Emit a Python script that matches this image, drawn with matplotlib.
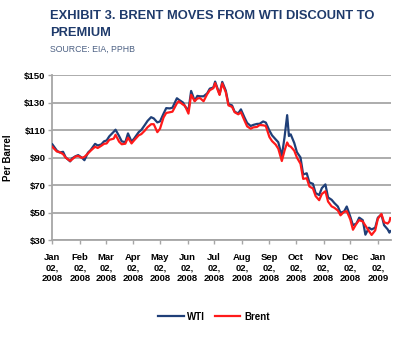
import matplotlib
matplotlib.use("Agg")
import matplotlib.pyplot as plt
from datetime import datetime

plt.rcParams['font.family'] = ['Liberation Sans', 'DejaVu Sans']

dates = [
    "2008-01-02", "2008-01-07", "2008-01-10", "2008-01-14", "2008-01-17", "2008-01-22", "2008-01-24",
    "2008-01-28", "2008-01-31", "2008-02-04", "2008-02-07", "2008-02-11", "2008-02-14", "2008-02-19",
    "2008-02-22", "2008-02-26", "2008-02-29", "2008-03-03", "2008-03-06", "2008-03-11", "2008-03-13",
    "2008-03-17", "2008-03-20", "2008-03-24", "2008-03-27", "2008-03-31", "2008-04-03", "2008-04-08",
    "2008-04-11", "2008-04-15", "2008-04-18", "2008-04-22", "2008-04-25", "2008-04-29", "2008-05-02",
    "2008-05-06", "2008-05-09", "2008-05-13", "2008-05-16", "2008-05-21", "2008-05-23", "2008-05-28",
    "2008-05-30", "2008-06-03", "2008-06-06", "2008-06-10", "2008-06-13", "2008-06-16", "2008-06-20",
    "2008-06-24", "2008-06-27", "2008-07-01", "2008-07-03", "2008-07-08", "2008-07-11", "2008-07-15",
    "2008-07-18", "2008-07-22", "2008-07-25", "2008-07-29", "2008-08-01", "2008-08-05", "2008-08-08",
    "2008-08-12", "2008-08-15", "2008-08-19", "2008-08-22", "2008-08-26", "2008-08-29", "2008-09-02",
    "2008-09-05", "2008-09-09", "2008-09-12", "2008-09-16", "2008-09-19", "2008-09-22", "2008-09-24",
    "2008-09-26", "2008-09-30", "2008-10-03", "2008-10-07", "2008-10-10", "2008-10-14", "2008-10-17",
    "2008-10-21", "2008-10-24", "2008-10-28", "2008-10-31", "2008-11-04", "2008-11-07", "2008-11-11",
    "2008-11-14", "2008-11-18", "2008-11-21", "2008-11-25", "2008-11-28", "2008-12-02", "2008-12-05",
    "2008-12-09", "2008-12-12", "2008-12-16", "2008-12-19", "2008-12-23", "2008-12-26", "2008-12-30",
    "2009-01-02", "2009-01-06", "2009-01-09", "2009-01-13", "2009-01-15", "2009-01-16",
]

wti = [
    99.6, 95.1, 93.7, 94.2, 90.1, 87.2, 89.4,
    91.0, 91.8, 90.0, 88.1, 93.6, 95.5, 100.0,
    98.8, 99.6, 101.8, 102.5, 105.5, 108.8, 110.3,
    105.7, 101.8, 101.2, 107.6, 101.6, 103.9, 108.5,
    110.1, 113.8, 116.7, 119.4, 118.5, 115.6, 116.3,
    122.0, 126.0, 125.8, 126.3, 133.2, 132.2, 130.0,
    127.4, 124.3, 138.5, 131.3, 134.9, 134.6, 134.6,
    136.7, 140.2, 141.0, 145.3, 136.1, 145.1, 138.7,
    128.9, 128.0, 123.3, 122.2, 125.1, 119.2, 115.2,
    113.0, 113.8, 114.5, 114.6, 116.3, 115.5, 109.7,
    106.2, 103.3, 101.2, 91.2, 104.6, 120.9, 105.7,
    106.9, 100.6, 93.9, 90.1, 77.7, 78.6, 71.9,
    70.9, 64.2, 62.7, 67.8, 70.5, 61.0, 59.3,
    57.0, 54.4, 49.9, 50.8, 54.4, 47.0, 40.8,
    42.1, 46.3, 44.5, 33.9, 39.0, 37.7, 39.0,
    46.3, 48.6, 40.8, 37.8, 35.4, 36.5,
]

brent = [
    97.8, 94.4, 94.1, 92.5, 89.9, 87.6, 88.6,
    90.8, 91.2, 89.8, 90.5, 93.0, 95.0, 97.9,
    97.0, 98.6, 100.0, 100.3, 102.9, 103.8, 106.6,
    101.6, 99.7, 100.1, 104.5, 100.3, 102.6, 106.2,
    107.1, 109.7, 112.1, 114.3, 114.3, 108.5, 111.0,
    119.2, 122.5, 123.0, 123.4, 129.5, 131.0, 128.5,
    127.8, 122.0, 135.7, 131.0, 133.0, 133.3, 131.0,
    136.1, 139.0, 140.5, 144.2, 135.6, 144.0, 137.5,
    128.0, 126.9, 123.0, 121.5, 123.0, 117.0, 112.7,
    111.0, 112.0, 112.3, 113.7, 113.5, 113.0, 105.0,
    102.0, 99.5, 96.5, 87.5, 95.0, 101.0, 98.5,
    98.0, 95.0, 90.0, 85.5, 74.5, 75.0, 69.0,
    67.5, 62.0, 59.0, 63.5, 65.5, 58.0, 54.5,
    53.5, 51.5, 48.0, 50.5, 51.0, 45.0, 37.5,
    42.0, 44.5, 43.5, 40.5, 36.5, 33.7, 37.0,
    45.5, 49.0, 43.0, 42.0, 43.5, 46.0,
]

y_ticks = [30, 50, 70, 90, 110, 130, 150]
tick_dates = ["2008-01-02", "2008-02-02", "2008-03-02", "2008-04-02", "2008-05-02", "2008-06-02",
              "2008-07-02", "2008-08-02", "2008-09-02", "2008-10-02", "2008-11-02", "2008-12-02",
              "2009-01-02"]
tick_labels = ["Jan\n02,\n2008", "Feb\n02,\n2008", "Mar\n02,\n2008", "Apr\n02,\n2008",
               "May\n02,\n2008", "Jun\n02,\n2008", "Jul\n02,\n2008", "Aug\n02,\n2008",
               "Sep\n02,\n2008", "Oct\n02,\n2008", "Nov\n02,\n2008", "Dec\n02,\n2008",
               "Jan\n02,\n2009"]

navy = "#1f3f78"
red = "#ff1a1a"
grid_gray = "#a6a6a6"

to_dt = lambda s: datetime.strptime(s, "%Y-%m-%d")
x = [to_dt(d) for d in dates]

fig = plt.figure(figsize=(4.0, 3.4), dpi=100)
ax = fig.add_axes([0.131, 0.294, 0.847, 0.485])

ax.plot(x, wti, color=navy, lw=1.6, label="WTI", zorder=3)
ax.plot(x, brent, color=red, lw=1.6, label="Brent", zorder=4)

ax.set_ylim(30, 150)
ax.set_yticks(y_ticks)
ax.set_yticklabels([f"${v}" for v in y_ticks], fontsize=6.8, fontweight="bold")
ax.set_xlim(to_dt("2008-01-02"), to_dt("2009-01-17"))
ax.set_xticks([to_dt(d) for d in tick_dates])
ax.set_xticklabels(tick_labels, fontsize=6.8, fontweight="bold", linespacing=1.25)

ax.yaxis.grid(True, color=grid_gray, lw=1.3)
ax.set_axisbelow(True)
for side in ("top", "right"):
    ax.spines[side].set_visible(False)
for side in ("left", "bottom"):
    ax.spines[side].set_color(grid_gray)
    ax.spines[side].set_linewidth(1.3)
ax.tick_params(axis="both", colors=grid_gray, labelcolor="black", length=3, width=1.0, pad=2)
ax.tick_params(axis="x", pad=6)

ax.set_ylabel("Per Barrel", fontsize=7, fontweight="bold", labelpad=8)

fig.legend(loc="center", bbox_to_anchor=(0.535, 0.068), ncol=2, frameon=False,
           prop={"size": 7, "weight": "bold"}, handlelength=2.6, columnspacing=1.0,
           handletextpad=0.4)

fig.text(0.125, 0.953, "EXHIBIT 3. BRENT MOVES FROM WTI DISCOUNT TO", fontsize=9.3,
         fontweight="bold", color="#1e3a6b", va="center", ha="left")
fig.text(0.125, 0.903, "PREMIUM", fontsize=9.3, fontweight="bold", color="#1e3a6b",
         va="center", ha="left")
fig.text(0.125, 0.856, "SOURCE: EIA, PPHB", fontsize=6.3, color="#4d6184",
         va="center", ha="left")

fig.savefig("out.png", dpi=100, facecolor="white")
